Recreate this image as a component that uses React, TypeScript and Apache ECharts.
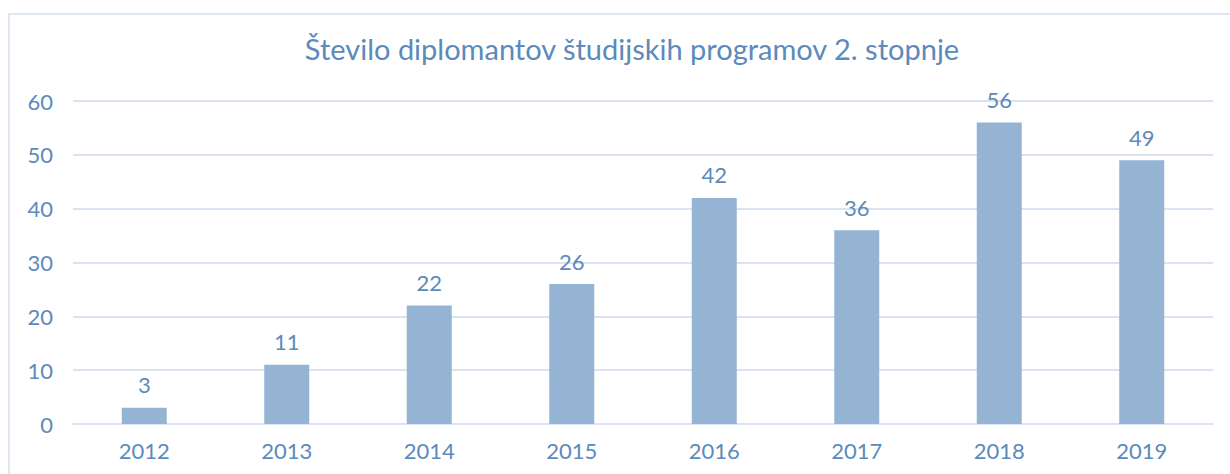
import React, { useEffect, useRef } from "react";
import * as echarts from "echarts";

const categories = ["2012", "2013", "2014", "2015", "2016", "2017", "2018", "2019"];
const values = [3, 11, 22, 26, 42, 36, 56, 49];
const titleText = "Število diplomantov študijskih programov 2. stopnje";

export default function App() {
  const ref = useRef<HTMLDivElement>(null);
  useEffect(() => {
    document.body.style.margin = "0";
    const chart = echarts.init(ref.current!, null, { renderer: "svg" });
    const textColor = "#5b8abb";
    const font = "Lato";
    chart.setOption({
      animation: false,
      backgroundColor: "#ffffff",
      title: {
        text: titleText,
        left: 627,
        textAlign: "center",
        top: 29,
        textStyle: { color: textColor, fontFamily: font, fontSize: 29, fontWeight: "normal" },
      },
      graphic: [
        {
          type: "rect",
          shape: { x: 9, y: 14, width: 1240, height: 500 },
          style: { fill: "none", stroke: "#dde7f1", lineWidth: 2 },
          silent: true,
        },
      ],
      grid: { left: 73, right: 17, top: 101, bottom: 50, containLabel: false },
      xAxis: {
        type: "category",
        data: categories,
        axisTick: { show: false },
        axisLine: { lineStyle: { color: "#d9e4f0", width: 2 } },
        axisLabel: { color: textColor, fontFamily: font, fontSize: 22, margin: 15 },
      },
      yAxis: {
        type: "value",
        min: 0,
        max: 60,
        interval: 10,
        axisLine: { show: false },
        axisTick: { show: false },
        splitLine: { lineStyle: { color: "#d9e4f0", width: 2 } },
        axisLabel: { color: textColor, fontFamily: font, fontSize: 22, margin: 20 },
      },
      series: [
        {
          type: "bar",
          data: values,
          barWidth: 45,
          itemStyle: { color: "#95b3d3" },
          label: {
            show: true,
            position: "top",
            distance: 12,
            color: textColor,
            fontFamily: font,
            fontSize: 22,
          },
        },
      ],
    });
    return () => chart.dispose();
  }, []);
  return <div ref={ref} style={{ width: 1230, height: 474 }} />;
}
